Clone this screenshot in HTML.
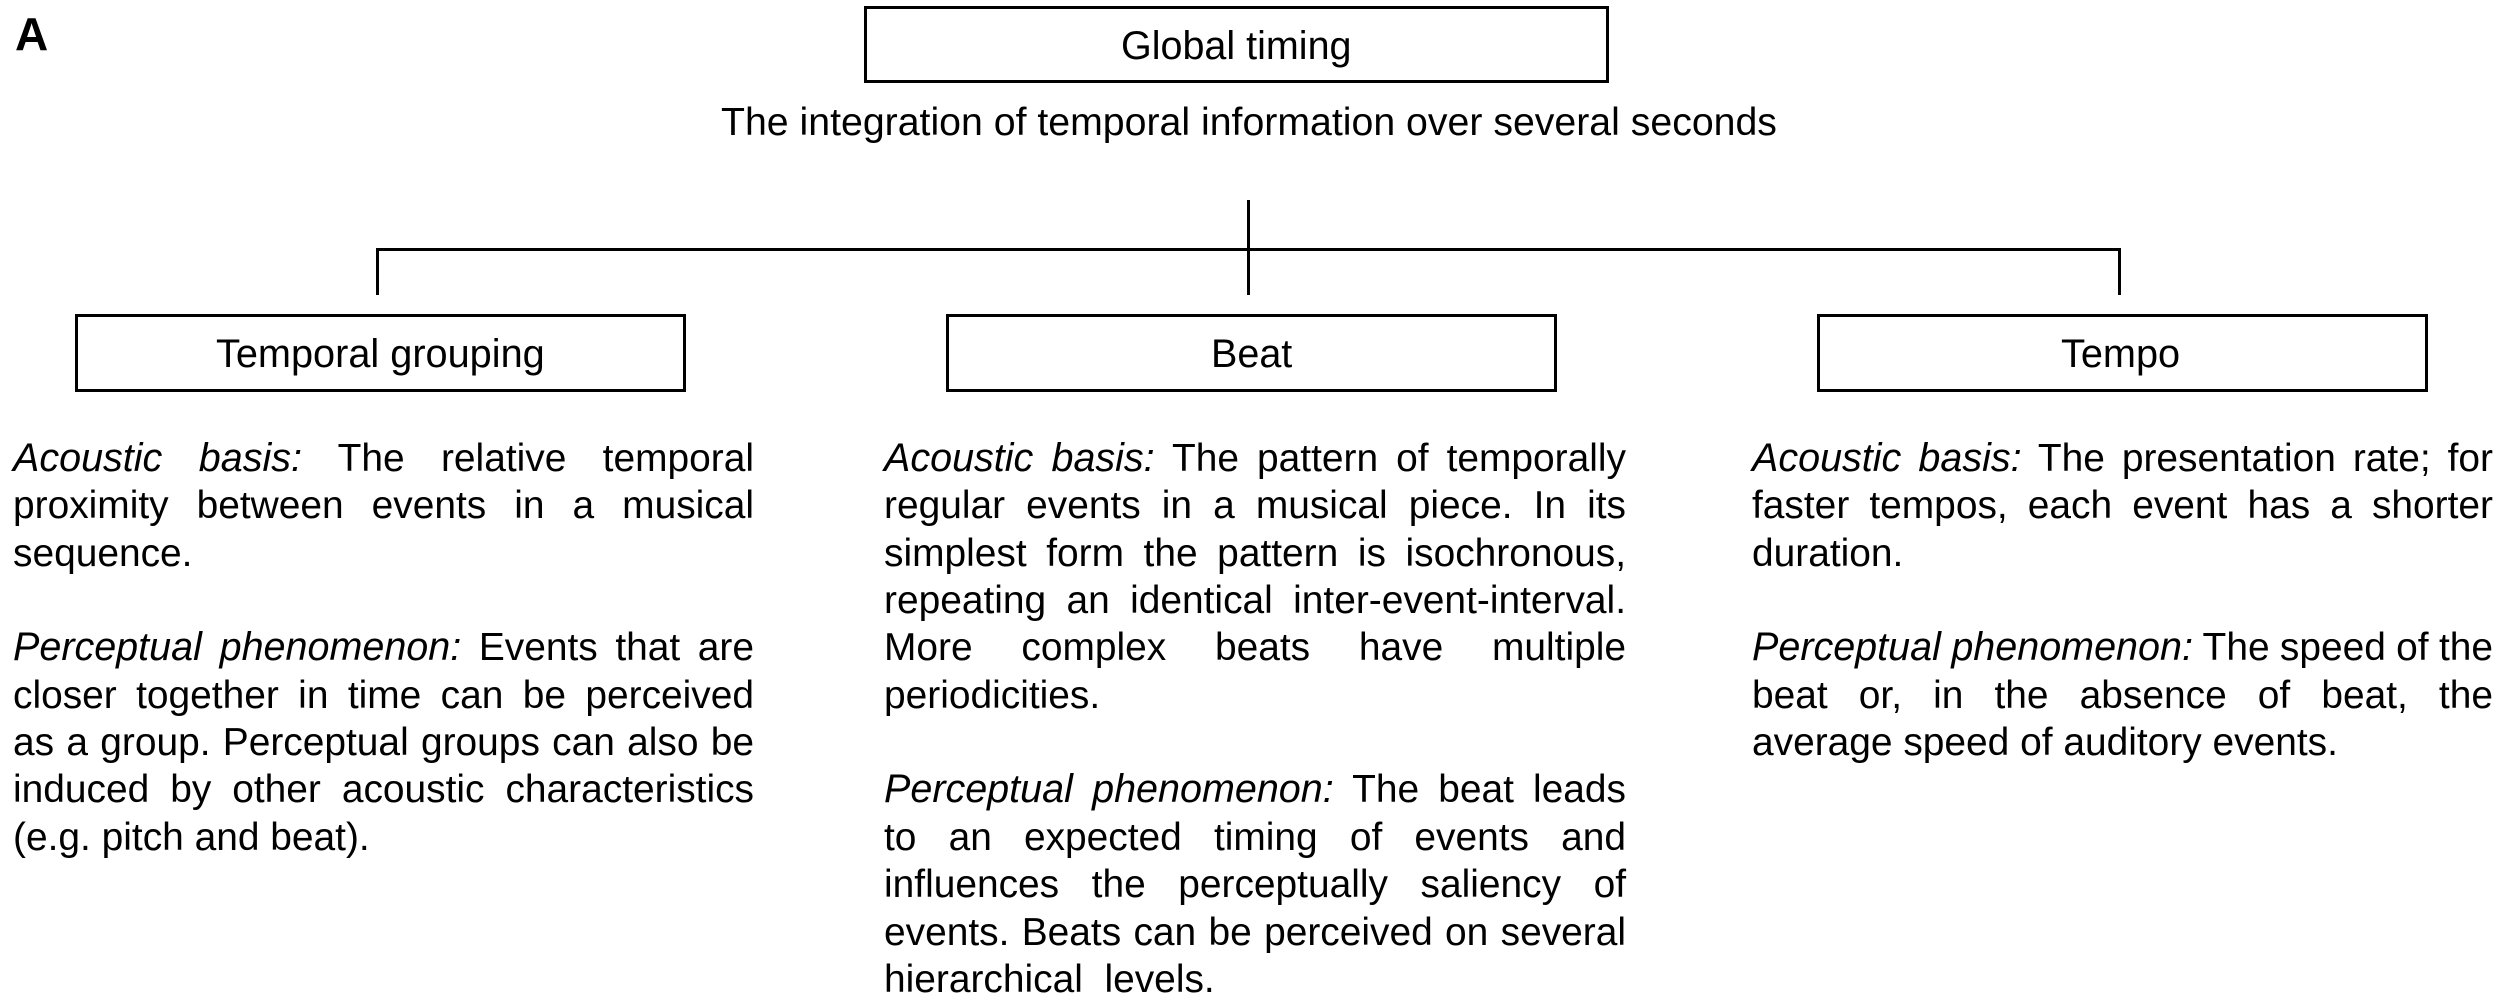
<!DOCTYPE html>
<html>
<head>
<meta charset="utf-8">
<style>
html,body{margin:0;padding:0;background:#fff;}
#p{position:relative;width:2500px;height:1005px;overflow:hidden;background:#fff;color:#000;font-family:"Liberation Sans",sans-serif;font-size:39.5px;line-height:47px;}
.b{position:absolute;box-sizing:border-box;border:3px solid #000;background:#fff;}
.r{position:absolute;background:#000;}
.t{position:absolute;white-space:nowrap;}
.l{position:absolute;white-space:nowrap;height:47px;font-size:38.9px;}
.l i{font-size:39.5px;}
.j{text-align:justify;text-align-last:justify;white-space:normal;word-spacing:-3px;}
.c1{left:13px;width:741px;}
.c2{left:884px;width:742px;}
.c3{left:1752px;width:741px;}
</style>
</head>
<body>
<div id="p">
<div class="t" style="left:15px;top:8px;font-size:46px;font-weight:bold;line-height:52px;">A</div>

<div class="b" style="left:864px;top:6px;width:745px;height:77px;"></div>
<div class="t" style="left:1121px;top:23px;">Global timing</div>
<div class="t" style="left:721px;top:99px;font-size:39.25px;">The integration of temporal information over several seconds</div>

<div class="r" style="left:376px;top:248px;width:1745px;height:3px;"></div>
<div class="r" style="left:376px;top:248px;width:3px;height:47px;"></div>
<div class="r" style="left:1247px;top:200px;width:3px;height:95px;"></div>
<div class="r" style="left:2118px;top:248px;width:3px;height:47px;"></div>

<div class="b" style="left:75px;top:314px;width:611px;height:78px;"></div>
<div class="b" style="left:946px;top:314px;width:611px;height:78px;"></div>
<div class="b" style="left:1817px;top:314px;width:611px;height:78px;"></div>
<div class="t" style="left:216px;top:331px;font-size:39.7px;">Temporal grouping</div>
<div class="t" style="left:1211px;top:331px;">Beat</div>
<div class="t" style="left:2061px;top:331px;font-size:39.7px;">Tempo</div>

<div class="l j c1" style="top:435px;"><i>Acoustic basis:</i> The relative temporal</div>
<div class="l j c1" style="top:482px;">proximity between events in a musical</div>
<div class="l c1" style="top:530px;">sequence.</div>
<div class="l j c1" style="top:624px;"><i>Perceptual phenomenon:</i> Events that are</div>
<div class="l j c1" style="top:672px;">closer together in time can be perceived</div>
<div class="l j c1" style="top:719px;">as a group. Perceptual groups can also be</div>
<div class="l j c1" style="top:766px;">induced by other acoustic characteristics</div>
<div class="l c1" style="top:814px;">(e.g. pitch and beat).</div>

<div class="l j c2" style="top:435px;"><i>Acoustic basis:</i> The pattern of temporally</div>
<div class="l j c2" style="top:482px;">regular events in a musical piece. In its</div>
<div class="l j c2" style="top:530px;">simplest form the pattern is isochronous,</div>
<div class="l j c2" style="top:577px;">repeating an identical inter-event-interval.</div>
<div class="l j c2" style="top:624px;">More complex beats have multiple</div>
<div class="l c2" style="top:672px;">periodicities.</div>
<div class="l j c2" style="top:766px;"><i>Perceptual phenomenon:</i> The beat leads</div>
<div class="l j c2" style="top:814px;">to an expected timing of events and</div>
<div class="l j c2" style="top:861px;">influences the perceptually saliency of</div>
<div class="l j c2" style="top:909px;">events. Beats can be perceived on several</div>
<div class="l c2" style="top:956px;">hierarchical&nbsp; levels.</div>

<div class="l j c3" style="top:435px;"><i>Acoustic basis:</i> The presentation rate; for</div>
<div class="l j c3" style="top:482px;">faster tempos, each event has a shorter</div>
<div class="l c3" style="top:530px;">duration.</div>
<div class="l j c3" style="top:624px;"><i>Perceptual phenomenon:</i> The speed of the</div>
<div class="l j c3" style="top:672px;">beat or, in the absence of beat, the</div>
<div class="l c3" style="top:719px;">average speed of auditory events.</div>
</div>
</body>
</html>
